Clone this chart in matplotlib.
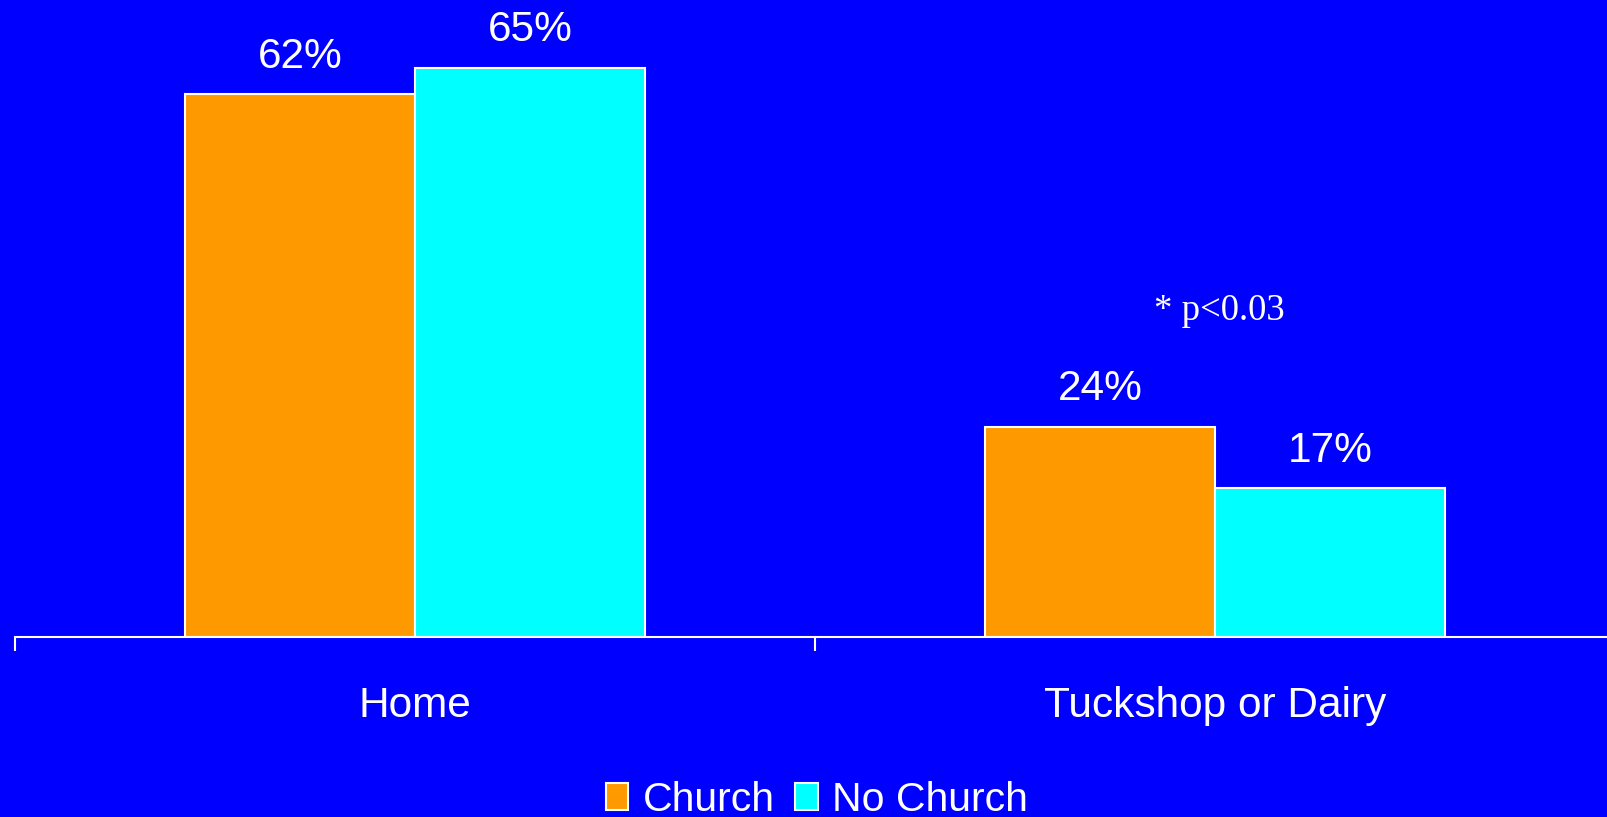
import numpy as np
import matplotlib
matplotlib.use("Agg")
import matplotlib.pyplot as plt

categories = ["Home", "Tuckshop or Dairy"]
church = [62, 24]
no_church = [65, 17]
series_names = ["Church", "No Church"]

blue = "#0000FF"
orange = "#FF9900"
cyan = "#00FFFF"

plt.rcParams["font.family"] = ["Liberation Sans", "DejaVu Sans"]

fig = plt.figure(figsize=(16.08, 8.17), dpi=100, facecolor=blue)
ax = fig.add_axes([15 / 1608, 180 / 817, 1600 / 1608, 613 / 817])
ax.set_facecolor(blue)

x = np.arange(len(categories))
w = 0.2875
b1 = ax.bar(x - w / 2, church, w, color=orange, edgecolor="white", linewidth=1.5, label=series_names[0])
b2 = ax.bar(x + w / 2, no_church, w, color=cyan, edgecolor="white", linewidth=1.5, label=series_names[1])

for bars, vals in [(b1, church), (b2, no_church)]:
    for r, v in zip(bars, vals):
        ax.annotate(f"{v}%", (r.get_x() + r.get_width() / 2, r.get_height()),
                    xytext=(0, 27), textcoords="offset points",
                    ha="center", va="center", color="white", fontsize=30.5)

ax.set_xlim(-0.5, 1.5)
ax.set_ylim(0, 70)
for s in ["top", "left", "right"]:
    ax.spines[s].set_visible(False)
ax.spines["bottom"].set_color("white")
ax.spines["bottom"].set_linewidth(1.5)
ax.set_yticks([])
ax.set_xticks([-0.5, 0.5, 1.5])
ax.set_xticklabels([])
ax.tick_params(axis="x", which="major", direction="out", length=10, width=1.5, color="white")
ax.set_xticks(x, categories, minor=True)
ax.tick_params(axis="x", which="minor", length=0, pad=35, labelsize=30.5, labelcolor="white")

ax.text(1.005, 37.3, "* p<0.03", ha="center", va="center", color="white",
        fontsize=26.5, family=["Liberation Serif", "DejaVu Serif"])

fig.legend(loc="center", bbox_to_anchor=(817 / 1608, 1 - 800 / 817), ncol=2,
           frameon=False, fontsize=29.5, labelcolor="white",
           handlelength=0.55, handleheight=0.65, handletextpad=0.35, columnspacing=0.5)

fig.savefig("out.png", dpi=100, facecolor=blue)
